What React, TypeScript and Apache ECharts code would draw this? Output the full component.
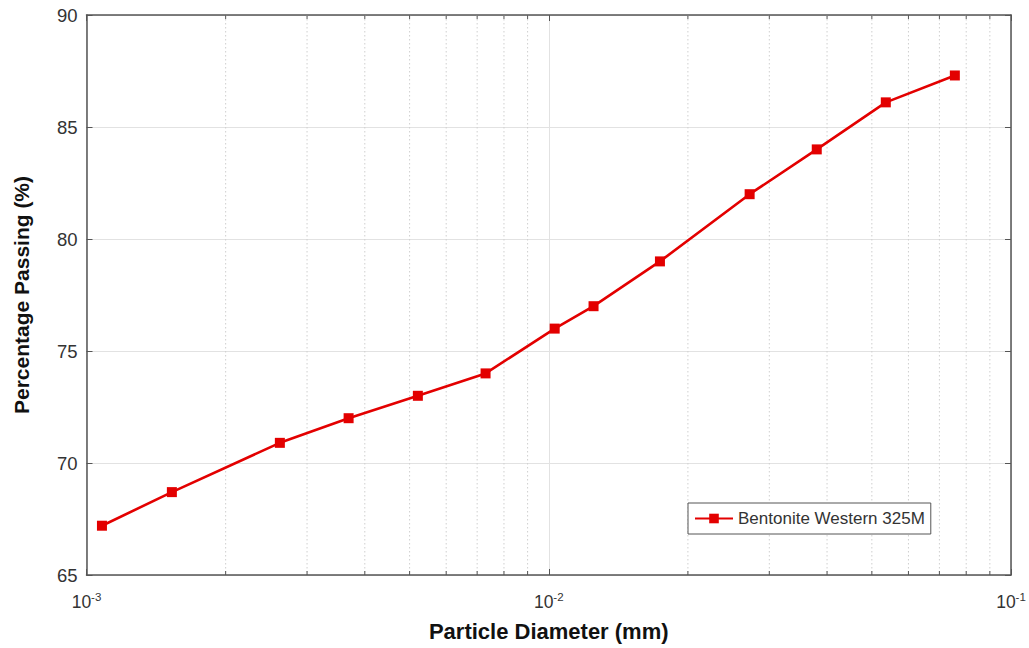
import React, { useEffect, useRef } from "react";
import * as echarts from "echarts";

// Particle size distribution
const seriesName = "Bentonite Western 325M";
const diameters = [0.00108, 0.00153, 0.00262, 0.00369, 0.00521, 0.0073, 0.0103, 0.0125, 0.0174, 0.0272, 0.038, 0.0536, 0.0756];
const passing = [67.2, 68.7, 70.9, 72.0, 73.0, 74.0, 76.0, 77.0, 79.0, 82.0, 84.0, 86.1, 87.3];

// Axis ranges and minor log grid positions
const xRange = [0.001, 0.1];
const yRange = [65, 90];
const yStep = 5;
const minorTicks = [0.002, 0.003, 0.004, 0.005, 0.006, 0.007, 0.008, 0.009, 0.02, 0.03, 0.04, 0.05, 0.06, 0.07, 0.08, 0.09];

const FONT = "Liberation Sans, Arial, Helvetica, sans-serif";
const AXIS_COLOR = "#555555";
const TEXT_COLOR = "#333333";

export default function App() {
  const ref = useRef<HTMLDivElement>(null);

  useEffect(() => {
    if (!ref.current) return;
    const chart = echarts.init(ref.current, null, { renderer: "svg" });

    const expLabel = (v: number) => {
      const e = Math.round(Math.log10(v));
      return "10{s|" + e + "}";
    };

    chart.setOption({
      animation: false,
      backgroundColor: "#ffffff",
      textStyle: { fontFamily: FONT },
      grid: { left: 86.5, right: 18, top: 15, bottom: 73, containLabel: false },
      legend: {
        data: [seriesName],
        left: 688,
        top: 503,
        orient: "horizontal",
        backgroundColor: "#ffffff",
        borderColor: "#555555",
        borderWidth: 1,
        borderRadius: 0,
        padding: [7, 6, 7, 6],
        itemWidth: 38,
        itemHeight: 12,
        itemGap: 4,
        textStyle: { fontSize: 17, color: TEXT_COLOR, fontFamily: FONT },
      },
      xAxis: [
        {
          type: "log",
          logBase: 10,
          min: xRange[0],
          max: xRange[1],
          name: "Particle Diameter (mm)",
          nameLocation: "middle",
          nameGap: 45,
          nameTextStyle: { fontSize: 22, fontWeight: "bold", color: "#111111", fontFamily: FONT },
          axisLine: { show: true, lineStyle: { color: AXIS_COLOR, width: 1.5 } },
          axisTick: { show: true, inside: true, length: 6, lineStyle: { color: AXIS_COLOR } },
          axisLabel: {
            margin: 16,
            fontSize: 17.5,
            color: TEXT_COLOR,
            formatter: expLabel,
            rich: {
              s: { fontSize: 11.5, color: TEXT_COLOR, padding: [0, 0, 10, 0] },
            },
          },
          splitLine: { show: true, lineStyle: { color: "#e2e2e2", width: 1 } },
          minorTick: { show: false },
        },
        {
          type: "log",
          logBase: 10,
          min: xRange[0],
          max: xRange[1],
          position: "top",
          axisLine: { show: true, lineStyle: { color: AXIS_COLOR, width: 1.5 } },
          axisTick: { show: true, inside: true, length: 6, lineStyle: { color: AXIS_COLOR } },
          axisLabel: { show: false },
          splitLine: { show: false },
        },
      ],
      yAxis: [
        {
          type: "value",
          min: yRange[0],
          max: yRange[1],
          interval: yStep,
          name: "Percentage Passing (%)",
          nameLocation: "middle",
          nameGap: 55,
          nameTextStyle: { fontSize: 21, fontWeight: "bold", color: "#111111", fontFamily: FONT },
          axisLine: { show: true, lineStyle: { color: AXIS_COLOR, width: 1.5 } },
          axisTick: { show: true, inside: true, length: 6, lineStyle: { color: AXIS_COLOR } },
          axisLabel: { margin: 9, fontSize: 18.5, color: TEXT_COLOR },
          splitLine: { show: true, lineStyle: { color: "#e2e2e2", width: 1 } },
        },
        {
          type: "value",
          min: yRange[0],
          max: yRange[1],
          interval: yStep,
          position: "right",
          axisLine: { show: true, lineStyle: { color: AXIS_COLOR, width: 1.5 } },
          axisTick: { show: true, inside: true, length: 6, lineStyle: { color: AXIS_COLOR } },
          axisLabel: { show: false },
          splitLine: { show: false },
        },
      ],
      series: [
        {
          // dotted minor grid lines with small inward ticks at 2..9 of each decade
          type: "custom",
          name: "minor",
          xAxisIndex: 0,
          yAxisIndex: 0,
          silent: true,
          z: 1,
          data: minorTicks.map((v) => [v, yRange[0]]),
          encode: { x: 0, y: 1 },
          renderItem: (params: any, api: any) => {
            const p = api.coord([api.value(0), yRange[0]]);
            const cs = params.coordSys;
            const top = cs.y;
            const bottom = cs.y + cs.height;
            return {
              type: "group",
              children: [
                {
                  type: "line",
                  shape: { x1: p[0], y1: top, x2: p[0], y2: bottom },
                  style: { stroke: "#cfcfcf", lineWidth: 1, lineDash: [1.5, 2.5] },
                },
                {
                  type: "line",
                  shape: { x1: p[0], y1: bottom, x2: p[0], y2: bottom - 4 },
                  style: { stroke: AXIS_COLOR, lineWidth: 1 },
                },
                {
                  type: "line",
                  shape: { x1: p[0], y1: top, x2: p[0], y2: top + 4 },
                  style: { stroke: AXIS_COLOR, lineWidth: 1 },
                },
              ],
            };
          },
        },
        {
          type: "line",
          name: seriesName,
          xAxisIndex: 0,
          yAxisIndex: 0,
          z: 5,
          data: diameters.map((d, i) => [d, passing[i]]),
          symbol: "rect",
          symbolSize: 10,
          lineStyle: { color: "#e30000", width: 2.6 },
          itemStyle: { color: "#e30000" },
        },
      ],
    });

    return () => chart.dispose();
  }, []);

  return (
    <div
      ref={ref}
      style={{ position: "fixed", left: 0, top: 0, width: 1029, height: 648, background: "#ffffff" }}
    />
  );
}
